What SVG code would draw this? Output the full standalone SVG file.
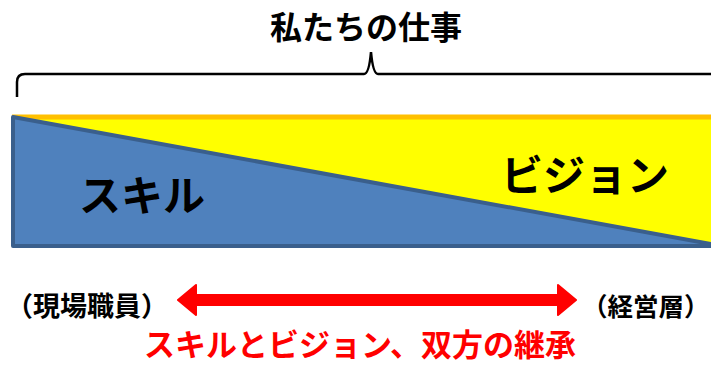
<svg xmlns="http://www.w3.org/2000/svg" width="711" height="365" viewBox="0 0 711 365">
<style>
text{font-family:"Noto Sans CJK JP","Noto Sans CJK SC",sans-serif;font-weight:bold}
.blk{fill:#000}
.red{fill:#FF0000}
</style>
<rect width="711" height="365" fill="#fff"/>
<g id="title"><text class="blk" x="366" y="39" font-size="32" text-anchor="middle">私たちの仕事</text></g>
<g id="brace"><path d="M17,97 V82 Q17,74 25,74 H364 Q369,74 371,52 Q373,74 378,74 H711" fill="none" stroke="#000" stroke-width="2.5"/></g>
<g id="vision"><rect x="12" y="117" width="699" height="130" fill="#FFFF00"/><line x1="12" y1="117" x2="711" y2="117" stroke="#FFC000" stroke-width="5"/></g>
<g id="skill"><polygon points="13,117 711,244 711,246 13,246" fill="#4F81BD" stroke="#3A5F8C" stroke-width="4" stroke-linejoin="round"/></g>
<g id="labels">
<text class="blk" x="79" y="211" font-size="42">スキル</text>
<text class="blk" x="501" y="191" font-size="42">ビジョン</text>
</g>
<g id="left"><text class="blk" x="6" y="316" font-size="27">（現場職員）</text></g>
<g id="right"><text class="blk" x="582" y="316" font-size="25.5">（経営層）</text></g>
<g id="connectors"><polygon points="178,300 196,285 196,295 558,295 558,285 576,300 558,315 558,305 196,305 196,315" fill="#FF0000" stroke="#FF0000" stroke-width="2" stroke-linejoin="round"/></g>
<g id="caption"><text class="red" x="360" y="356" font-size="31" text-anchor="middle">スキルとビジョン、双方の継承</text></g>
</svg>
